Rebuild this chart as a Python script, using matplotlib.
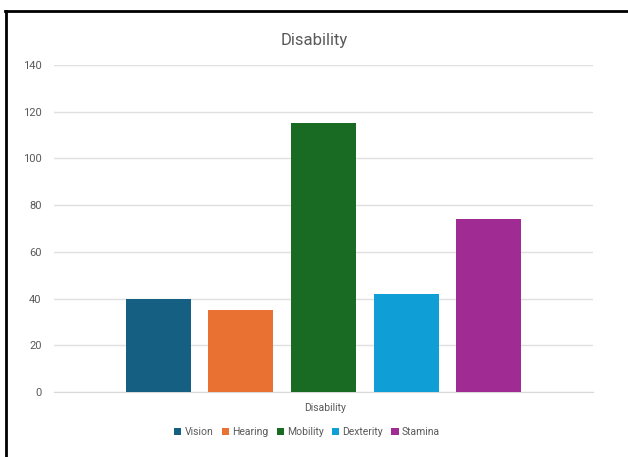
import numpy as np
import matplotlib.pyplot as plt
from matplotlib.lines import Line2D
from matplotlib.patches import Patch

# data
series = ['Vision', 'Hearing', 'Mobility', 'Dexterity', 'Stamina']
values = [40, 35, 115, 42, 74]
colors = ['#156082', '#E97132', '#196B24', '#0F9ED5', '#A02B93']
yticks = [0, 20, 40, 60, 80, 100, 120, 140]

plt.rcParams['font.family'] = ['Roboto', 'DejaVu Sans']
txt = '#595959'

fig = plt.figure(figsize=(6.28, 4.57), dpi=100)
ax = fig.add_axes([54 / 628, 1 - 392 / 457, (593 - 54) / 628, (392 - 65) / 457])

x = np.arange(len(series))
ax.bar(x, values, width=0.785, color=colors, zorder=3)

ax.set_ylim(0, 140)
ax.set_yticks(yticks)
ax.set_xlim(-1.26, 5.26)
ax.set_xticks([])
ax.grid(axis='y', color='#e0e0e0', linewidth=1, zorder=0)
for s in ['top', 'right', 'left']:
    ax.spines[s].set_visible(False)
ax.spines['bottom'].set_color('#d9d9d9')
ax.tick_params(axis='y', length=0, pad=9, labelsize=8, labelcolor=txt)

fig.text(0.5, 1 - 40 / 457, 'Disability', ha='center', va='center', fontsize=12, color=txt)
fig.text(325 / 628, 1 - 408 / 457, 'Disability', ha='center', va='center', fontsize=7.5, color=txt)

handles = [Patch(facecolor=c, label=s) for c, s in zip(colors, series)]
fig.legend(handles=handles, loc='center', bbox_to_anchor=(307 / 628, 1 - 432 / 457), ncol=5,
           frameon=False, fontsize=7.5, labelcolor=txt, handlelength=0.7, handleheight=0.7,
           handletextpad=0.3, columnspacing=0.8)

# black border along top and left of the screenshot
fig.add_artist(Line2D([5 / 628, 1], [1 - 11 / 457, 1 - 11 / 457], color='black', lw=2, transform=fig.transFigure))
fig.add_artist(Line2D([6 / 628, 6 / 628], [0, 1 - 11 / 457], color='black', lw=2, transform=fig.transFigure))

fig.savefig('out.png', dpi=100)
